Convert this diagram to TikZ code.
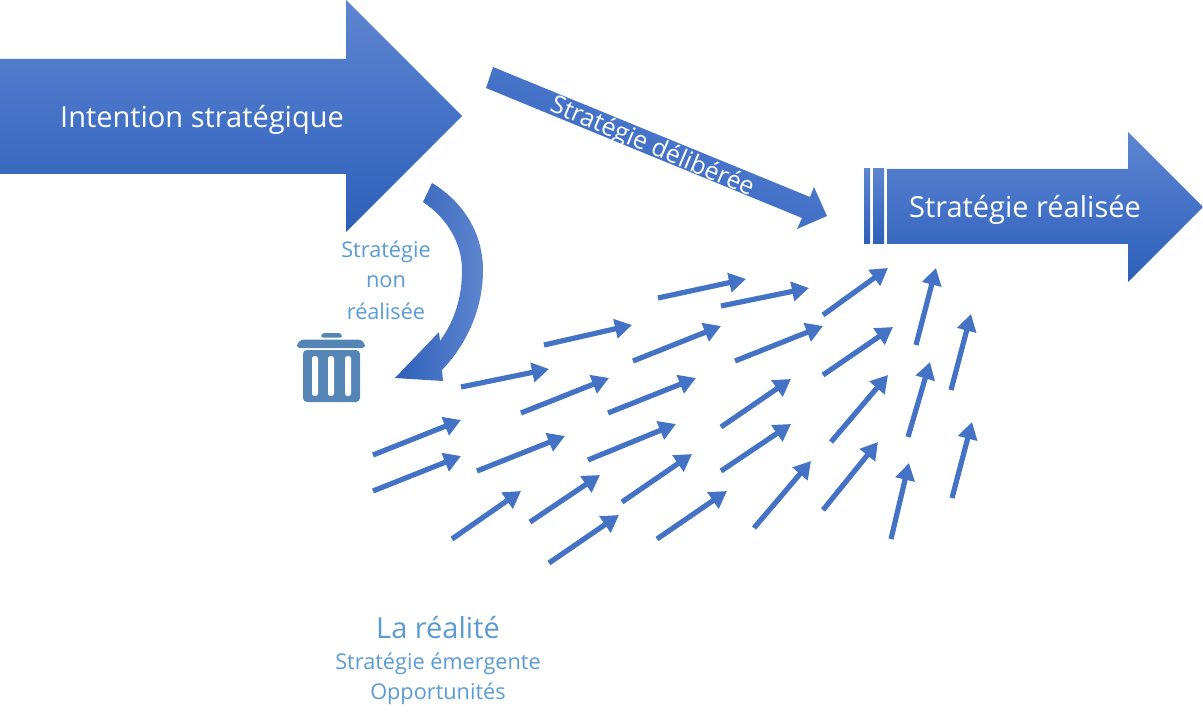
\documentclass[tikz,border=0pt]{standalone}
\usepackage{fontspec}
\setmainfont{Open Sans}
\usetikzlibrary{arrows.meta}
\definecolor{arrowblue}{HTML}{4472C4}
\definecolor{gradtop}{HTML}{5E86CF}
\definecolor{gradmid}{HTML}{4472C7}
\definecolor{gradbot}{HTML}{2E5FB8}
\definecolor{labelblue}{HTML}{5B9BD5}
\definecolor{binblue}{HTML}{5485B5}
\tikzset{
  bigshade/.style={top color=gradtop,bottom color=gradbot,middle color=gradmid,draw=none},
  smallarrow/.style={draw=arrowblue,line width=5.2pt,-{Triangle[length=17pt,width=19pt]},shorten >=0pt},
  whitetext/.style={text=white,inner sep=0pt},
  bluetext/.style={text=labelblue,inner sep=0pt},
  bin/.style={fill=binblue,draw=none}
}
\begin{document}
\begin{tikzpicture}[x=1pt,y=-1pt]
\useasboundingbox (0,0) rectangle (1203,722);
% main arrows
\shade[bigshade] (0,59) -- (346,59) -- (346,0) -- (462,116) -- (346,232) -- (346,174) -- (0,174) -- cycle;
\node[whitetext,font=\fontsize{29}{34}\selectfont] (intention) at (202,120) {Intention stratégique};
\shade[bigshade,shading angle=-23] (493,67) -- (810,197) -- (814,187) -- (827,216) -- (797,229) -- (802,218) -- (486,88) -- cycle;
\node[whitetext,rotate=-23,font=\fontsize{25}{30}\selectfont] (deliberee) at (652,147.5) {Stratégie délibérée};
\shade[bigshade] (887,169) -- (1128,169) -- (1128,132) -- (1203,207) -- (1128,282) -- (1128,244) -- (887,244) -- cycle;
\shade[bigshade] (864,169) rectangle (870,244);
\shade[bigshade] (873,169) rectangle (884,244);
\node[whitetext,font=\fontsize{29}{34}\selectfont] (realisee) at (1025,210) {Stratégie réalisée};
% curved arrow
\shade[left color=gradbot,right color=gradtop,draw=none]
  (432,183) .. controls (465,203) and (483,235) .. (483,270)
  .. controls (483,310) and (466,345) .. (442,370)
  -- (443,381) -- (395,378) -- (439,332) -- (440,341)
  .. controls (455,320) and (462,297) .. (462,270)
  .. controls (462,243) and (447,218) .. (423,202) -- cycle;
\node[bluetext,font=\fontsize{21.7}{26}\selectfont] (nonA) at (386,252) {Stratégie};
\node[bluetext,font=\fontsize{21.7}{26}\selectfont] (nonB) at (386,282) {non};
\node[bluetext,font=\fontsize{21.7}{26}\selectfont] (nonC) at (386,311) {réalisée};
% bin
\fill[bin,rounded corners=1.5pt] (321,337.5) -- (321,335) -- (323,333) -- (340,333) -- (342,335) -- (342,337.5) -- cycle;
\fill[bin,rounded corners=3pt] (297,348) -- (297,344) -- (301,339.5) -- (361,339.5) -- (365,344) -- (365,348) -- cycle;
\fill[bin,rounded corners=4pt] (303,350) -- (360,350) -- (360,402) -- (303,402) -- cycle;
\fill[white,rounded corners=2.5pt] (312,356) rectangle (318,396);
\fill[white,rounded corners=2.5pt] (328,356) rectangle (334,396);
\fill[white,rounded corners=2.5pt] (345,356) rectangle (351,396);
% small arrows
\foreach \i/\xa/\ya/\xb/\yb in {
 1/373/455/461/420, 2/373/491/461/456, 3/452/539/521/491, 4/477/471/565/436,
 5/521/413/609/378, 6/461/387/549/369, 7/544/345/632/325, 8/658/298/746/279,
 9/721/306/809/288, 10/633/361/721/326, 11/608/413/696/378, 12/588/460/676/424,
 13/530/522/600/475, 14/549/563/619/515, 15/622/502/692/454, 16/657/539/727/491,
 17/721/471/791/424, 18/721/427/791/379, 19/735/361/823/326, 20/823/315/888/268,
 21/823/375/893/327, 22/831/442/888/375, 23/754/528/811/461, 24/823/510/878/442,
 25/891/539/909/463, 26/908/437/930/362, 27/916/345/936/268, 28/951/390/971/314,
 29/952/498/972/422}{
  \coordinate (s\i) at (\xa,\ya);
  \coordinate (e\i) at (\xb,\yb);
  \draw[smallarrow] (s\i) -- (e\i);
}
% labels
\node[bluetext,font=\fontsize{29}{34}\selectfont] (realite) at (438,628) {La réalité};
\node[bluetext,font=\fontsize{21.7}{26}\selectfont] (emergente) at (438,664) {Stratégie émergente};
\node[bluetext,font=\fontsize{21.7}{26}\selectfont] (opport) at (438,694) {Opportunités};
\end{tikzpicture}
\end{document}
